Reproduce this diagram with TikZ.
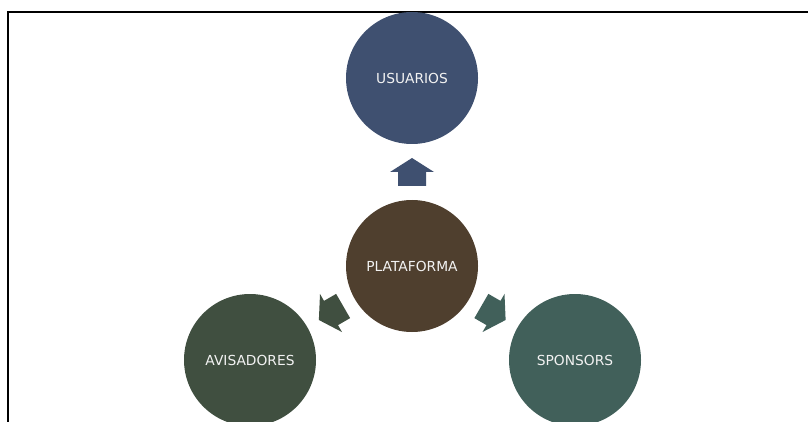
\documentclass[tikz,border=0pt]{standalone}
\usepackage{fontspec}
\setmainfont{DejaVu Sans}
\usetikzlibrary{calc}
\definecolor{cUsu}{HTML}{3F5070}
\definecolor{cPla}{HTML}{4F3F2E}
\definecolor{cAvi}{HTML}{404F40}
\definecolor{cSpo}{HTML}{41605A}
\definecolor{cTxt}{HTML}{F2F2F2}
\begin{document}
\begin{tikzpicture}[x=1pt,y=-1pt,
  circ/.style={circle, minimum size=132pt, inner sep=0pt, text=cTxt,
    font=\fontsize{13.8}{16}\selectfont},
  fatarrow/.pic={\path[pic actions] (14,0) -- (0,22) -- (0,14) -- (-14,14) -- (-14,-14) -- (0,-14) -- (0,-22) -- cycle;}]
\useasboundingbox (0,0) rectangle (808,422);
\draw[line width=1.4pt] (8,422) -- (8,12) -- (808,12);
\node[circ, fill=cUsu] (usu) at (412,78) {USUARIOS};
\node[circ, fill=cPla] (pla) at (412,266) {PLATAFORMA};
\node[circ, fill=cAvi] (avi) at (250,360) {AVISADORES};
\node[circ, fill=cSpo] (spo) at (575,360) {SPONSORS};
\pic[fill=cUsu, rotate=90] at ($(pla)!0.5!(usu)$) {fatarrow};
\pic[fill=cAvi, rotate=210] at ($(pla)!0.5!(avi)$) {fatarrow};
\pic[fill=cSpo, rotate=-30] at ($(pla)!0.5!(spo)$) {fatarrow};
\end{tikzpicture}
\end{document}
